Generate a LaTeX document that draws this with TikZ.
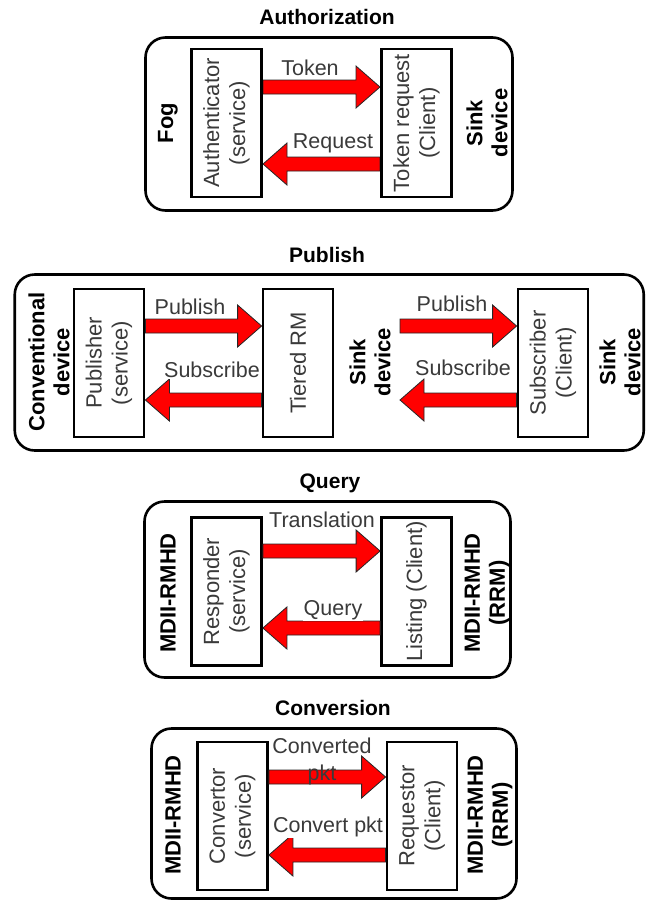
\documentclass[tikz,border=0pt]{standalone}
\usepackage{fontspec}
\setmainfont{Liberation Sans}
\usetikzlibrary{calc}
\definecolor{txtgray}{HTML}{3A3A3A}
\definecolor{arrred}{HTML}{FF0000}
\tikzset{
  panel/.style={draw=black, line width=2.6pt, rounded corners=20pt, inner sep=0pt},
  svcbox/.style={draw=black, line width=2.8pt, fill=white, minimum width=70pt, minimum height=148pt, inner sep=0pt},
  boxtext/.style={rotate=90, align=center, text=txtgray, font=\fontsize{22}{26}\selectfont},
  sidelabel/.style={rotate=90, align=center, font=\bfseries\fontsize{22}{25}\selectfont},
  titletext/.style={font=\bfseries\fontsize{21}{24}\selectfont},
  arrlabel/.style={text=txtgray, font=\fontsize{21.5}{24}\selectfont, fill=white, inner sep=1pt},
  arrlabelnf/.style={text=txtgray, align=center, font=\fontsize{21.5}{27}\selectfont, inner sep=1pt},
  blockarrow/.style={fill=arrred, draw=black!85, line width=0.8pt, line join=miter},
}
\newcommand\blockarr[2]{%
  \draw[blockarrow] let \p1=(#1), \p2=(#2), \n1={sign(\x2-\x1)} in
    (\x1,{\y1+7pt}) -- ({\x2-\n1*24pt},{\y1+7pt}) -- ({\x2-\n1*24pt},{\y1+21pt})
    -- (\x2,\y1) -- ({\x2-\n1*24pt},{\y1-21pt}) -- ({\x2-\n1*24pt},{\y1-7pt})
    -- (\x1,{\y1-7pt}) -- cycle;}
\begin{document}
\begin{tikzpicture}[x=1pt,y=-1pt]
\useasboundingbox (0,0) rectangle (646,903);

% ---------------- Authorization ----------------
\node[titletext] (t1) at (327,17) {Authorization};
\node[panel, minimum width=367pt, minimum height=173pt] (p1) at (329,124) {};
\blockarr{263,87}{380,87}
\blockarr{380,164}{263,164}
\node[svcbox] (auth) at (226.5,123) {};
\node[svcbox] (tok) at (416.5,123) {};
\node[boxtext] (autht) at (auth.center) {Authenticator\\(service)};
\node[boxtext] (tokt) at (tok.center) {Token request\\(Client)};
\node[arrlabel] (l1) at (310,68) {Token};
\node[arrlabel] (l2) at (333,143) {Request};
\node[sidelabel] (fog) at (168,123) {Fog};
\node[sidelabel] (sink1) at (487,123) {Sink\\device};

% ---------------- Publish ----------------
\node[titletext] (t2) at (327,255) {Publish};
\node[panel, minimum width=629pt, minimum height=176pt] (p2) at (329.25,362.5) {};
\coordinate (r1) at (400,326);
\coordinate (r2) at (400,400);
\node[svcbox] (pub) at (109,363) {};
\node[svcbox] (tier) at (298,363) {};
\node[svcbox] (sub) at (553,363) {};
\blockarr{pub.east |- 0,326}{tier.west |- 0,326}
\blockarr{tier.west |- 0,400}{pub.east |- 0,400}
\blockarr{r1}{sub.west |- r1}
\blockarr{sub.west |- r2}{r2}
\node[boxtext] (pubt) at (pub.center) {Publisher\\(service)};
\node[boxtext] (tiert) at (tier.center) {Tiered RM};
\node[boxtext] (subt) at (sub.center) {Subscriber\\(Client)};
\node[arrlabel] (l3) at (190,307) {Publish};
\node[arrlabel] (l4) at (212,370) {Subscribe};
\node[arrlabel] (l5) at (452,304) {Publish};
\node[arrlabel] (l6) at (463,368) {Subscribe};
\node[sidelabel] (conv1) at (49,362) {Conventional\\device};
\node[sidelabel] (sink2) at (370,362) {Sink\\device};
\node[sidelabel] (sink3) at (620,362) {Sink\\device};

% ---------------- Query ----------------
\node[titletext] (t3) at (330,483) {Query};
\node[panel, minimum width=366pt, minimum height=176pt] (p3) at (327.5,589.5) {};
\node[svcbox] (resp) at (226.5,591.5) {};
\node[svcbox] (list) at (416.5,591.5) {};
\blockarr{resp.east |- 0,551}{list.west |- 0,551}
\blockarr{list.west |- 0,628}{resp.east |- 0,628}
\node[boxtext] (respt) at (resp.center) {Responder\\(service)};
\node[boxtext] (listt) at (list.center) {Listing (Client)};
\node[arrlabel] (l7) at (322,520) {Translation};
\node[arrlabel] (l8) at (333,610) {Query};
\node[sidelabel] (m1) at (168,593) {MDII-RMHD};
\node[sidelabel] (m2) at (487,593) {MDII-RMHD\\(RRM)};

% ---------------- Conversion ----------------
\node[titletext] (t4) at (333,708) {Conversion};
\node[panel, minimum width=365pt, minimum height=170pt] (p4) at (334,813.5) {};
\node[svcbox] (cvt) at (232.5,816) {};
\node[svcbox] (req) at (422,816) {};
\blockarr{cvt.east |- 0,777}{req.west |- 0,777}
\blockarr{req.west |- 0,855}{cvt.east |- 0,855}
\node[boxtext] (cvtt) at (cvt.center) {Convertor\\(service)};
\node[boxtext] (reqt) at (req.center) {Requestor\\(Client)};
\node[arrlabelnf] (l9) at (322,761) {Converted\\pkt};
\node[arrlabel] (l10) at (328,827) {Convert pkt};
\node[sidelabel] (m3) at (173,815) {MDII-RMHD};
\node[sidelabel] (m4) at (490,815) {MDII-RMHD\\(RRM)};
\end{tikzpicture}
\end{document}
